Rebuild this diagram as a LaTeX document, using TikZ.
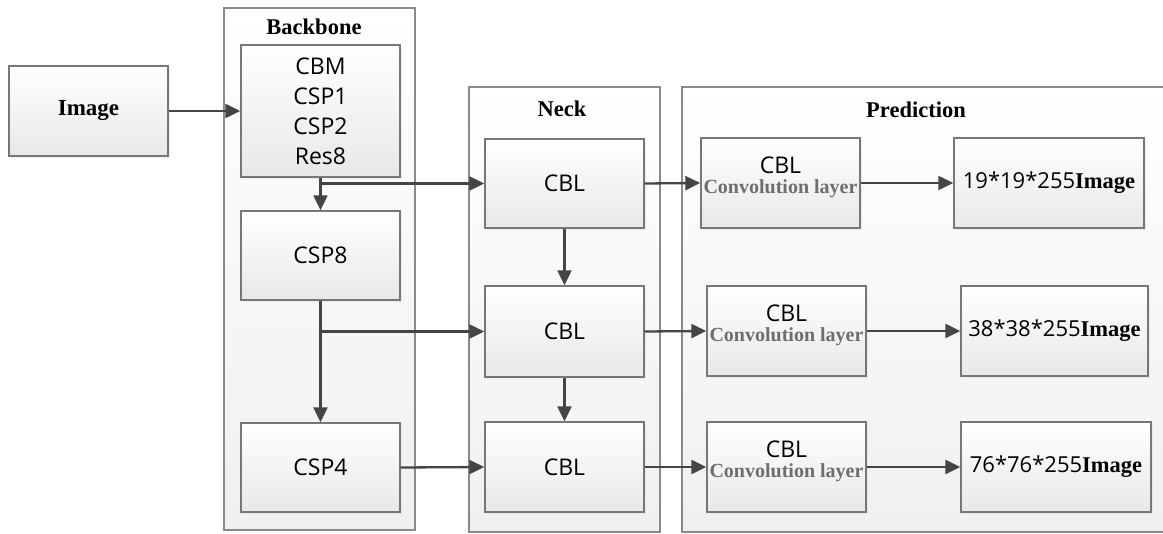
\documentclass[tikz,border=0pt]{standalone}
\usepackage{fontspec}
\newfontfamily\sg{Open Sans}
\newfontfamily\tms{Liberation Serif}
\usetikzlibrary{arrows.meta,shadows,calc}
\definecolor{boxline}{HTML}{777777}
\definecolor{contline}{HTML}{8A8A8A}
\definecolor{arrcol}{HTML}{454545}
\definecolor{convgray}{HTML}{6E6E6E}
\tikzset{
  cont/.style={draw=contline,line width=1.4pt,top color=white,bottom color=black!6},
  blk/.style={draw=boxline,line width=1.4pt,top color=white,bottom color=black!9,
    drop shadow={shadow xshift=2pt,shadow yshift=-2pt,fill=black!12},
    minimum width=159pt,minimum height=90pt,inner sep=0pt,align=center,
    font=\sg\fontsize{23}{30}\selectfont},
  ttl/.style={font=\tms\bfseries\fontsize{22.5}{24}\selectfont,inner sep=1pt},
  cbltxt/.style={font=\sg\fontsize{23}{24}\selectfont,inner sep=0pt},
  convtxt/.style={font=\tms\bfseries\fontsize{20}{22}\selectfont,text=convgray,inner sep=0pt},
  outtxt/.style={font=\sg\fontsize{22}{24}\selectfont},
  arr/.style={draw=arrcol,line width=2.3pt,-{Triangle[length=15pt,width=14pt]}}
}
\begin{document}
\begin{tikzpicture}[x=1pt,y=-1pt]
\useasboundingbox (0,0) rectangle (1163,534);
% containers
\draw[cont] (224,8) rectangle (415,530);
\draw[cont] (469,87) rectangle (660,532);
\draw[cont] (682,87) rectangle (1170,532);
\node[ttl] (tbb) at (314,27) {Backbone};
\node[ttl] (tnk) at (562,109) {Neck};
\node[ttl] (tpr) at (916,110) {Prediction};
% input
\node[blk,font=\tms\bfseries\fontsize{23}{24}\selectfont] (img) at (88.5,111) {Image};
% backbone
\node[blk,minimum height=132pt] (bb) at (320.5,111) {CBM\\CSP1\\CSP2\\Res8};
\node[blk,minimum height=89pt] (csp8) at (320.5,255.5) {CSP8};
\node[blk,minimum height=89pt] (csp4) at (320.5,467.5) {CSP4};
% neck
\node[blk,minimum height=89pt] (n1) at (564.5,183.5) {CBL};
\node[blk,minimum height=91pt] (n2) at (564.5,331.5) {CBL};
\node[blk] (n3) at (564.5,467) {CBL};
% prediction CBL boxes
\node[blk] (p1) at (780.5,183) {};
\node[blk] (p2) at (786.5,331) {};
\node[blk] (p3) at (786.5,467) {};
\foreach \p in {p1,p2,p3}{
  \node[cbltxt] (\p c) at ($(\p.center)+(0,-18)$) {CBL};
  \node[convtxt] (\p v) at ($(\p.center)+(0,6)$) {Convolution layer};
}
% outputs
\node[blk,outtxt,minimum width=190pt] (o1) at (1049,183) {19*19*255{\tms\bfseries\fontsize{22.5}{24}\selectfont Image}};
\node[blk,outtxt,minimum width=187pt] (o2) at (1054.5,331) {38*38*255{\tms\bfseries\fontsize{22.5}{24}\selectfont Image}};
\node[blk,outtxt,minimum width=190pt] (o3) at (1056,467) {76*76*255{\tms\bfseries\fontsize{22.5}{24}\selectfont Image}};
% connectors
\draw[arr] (img.east) -- (bb.west);
\draw[arr] (bb.south) -- (csp8.north);
\draw[arr] (bb.south |- n1.west) -- (n1.west);
\draw[arr] (csp8.south) -- (csp4.north);
\draw[arr] (csp8.south |- n2.west) -- (n2.west);
\draw[arr] (csp4.east) -- (n3.west);
\draw[arr] (n1.south) -- (n2.north);
\draw[arr] (n2.south) -- (n3.north);
\draw[arr] (n1.east) -- (p1.west);
\draw[arr] (n2.east) -- (p2.west);
\draw[arr] (n3.east) -- (p3.west);
\draw[arr] (p1.east) -- (o1.west);
\draw[arr] (p2.east) -- (o2.west);
\draw[arr] (p3.east) -- (o3.west);
\end{tikzpicture}
\end{document}
